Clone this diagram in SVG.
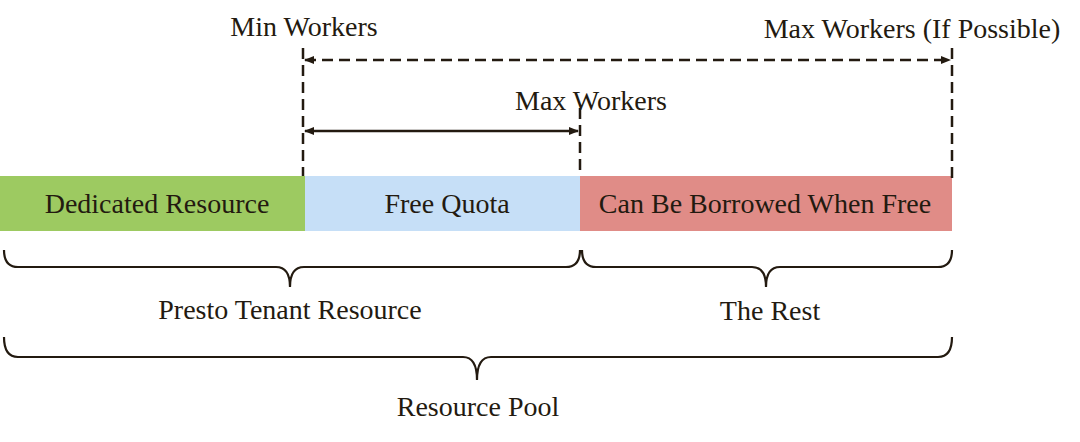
<svg xmlns="http://www.w3.org/2000/svg" width="1080" height="442" viewBox="0 0 1080 442">
<style>
text{font-family:"Liberation Serif","Times New Roman",serif;font-size:28px;fill:#231a10;text-anchor:middle}
.dash{stroke:#231a10;stroke-width:2.5;stroke-dasharray:11 6;fill:none}
.solid{stroke:#231a10;stroke-width:2.5;fill:none}
.brace{stroke:#231a10;stroke-width:2.2;fill:none}
</style>
<defs>
<marker id="ah" viewBox="0 0 10 10" refX="9" refY="5" markerWidth="4" markerHeight="4" orient="auto-start-reverse" markerUnits="strokeWidth">
<path d="M0,1 L10,5 L0,9 Z" fill="#231a10"/>
</marker>
</defs>
<rect width="1080" height="442" fill="#ffffff"/>
<g id="dedicated"><rect x="0" y="176" width="305" height="55" fill="#9dca61"/><text x="157" y="213">Dedicated Resource</text></g>
<g id="free-quota"><rect x="305" y="176" width="275" height="55" fill="#c6dff7"/><text x="447" y="213">Free Quota</text></g>
<g id="borrowed"><rect x="580" y="176" width="372" height="55" fill="#e08c87"/><text x="765" y="213">Can Be Borrowed When Free</text></g>
<g id="connectors">
<line class="dash" x1="303" y1="48" x2="303" y2="176"/>
<line class="dash" x1="580" y1="108" x2="580" y2="176"/>
<line class="dash" x1="952" y1="48" x2="952" y2="180"/>
<line class="dash" x1="305" y1="60" x2="950" y2="60" marker-start="url(#ah)" marker-end="url(#ah)"/>
<line class="solid" x1="305" y1="131" x2="578" y2="131" marker-start="url(#ah)" marker-end="url(#ah)"/>
<path class="brace" d="M4,250 Q4,267 18,267 L276,267 Q290,267 290,287 Q290,267 304,267 L566,267 Q580,267 580,250"/>
<path class="brace" d="M582,250 Q582,267 596,267 L752,267 Q766,267 766,287 Q766,267 780,267 L938,267 Q952,267 952,250"/>
<path class="brace" d="M4,337 Q4,357 18,357 L463,357 Q477,357 477,380 Q477,357 491,357 L938,357 Q952,357 952,337"/>
</g>
<g id="labels">
<text x="304" y="36">Min Workers</text>
<text x="912" y="38">Max Workers (If Possible)</text>
<text x="591" y="110">Max Workers</text>
<text x="290" y="319">Presto Tenant Resource</text>
<text x="770" y="320">The Rest</text>
<text x="478" y="416">Resource Pool</text>
</g>
</svg>
